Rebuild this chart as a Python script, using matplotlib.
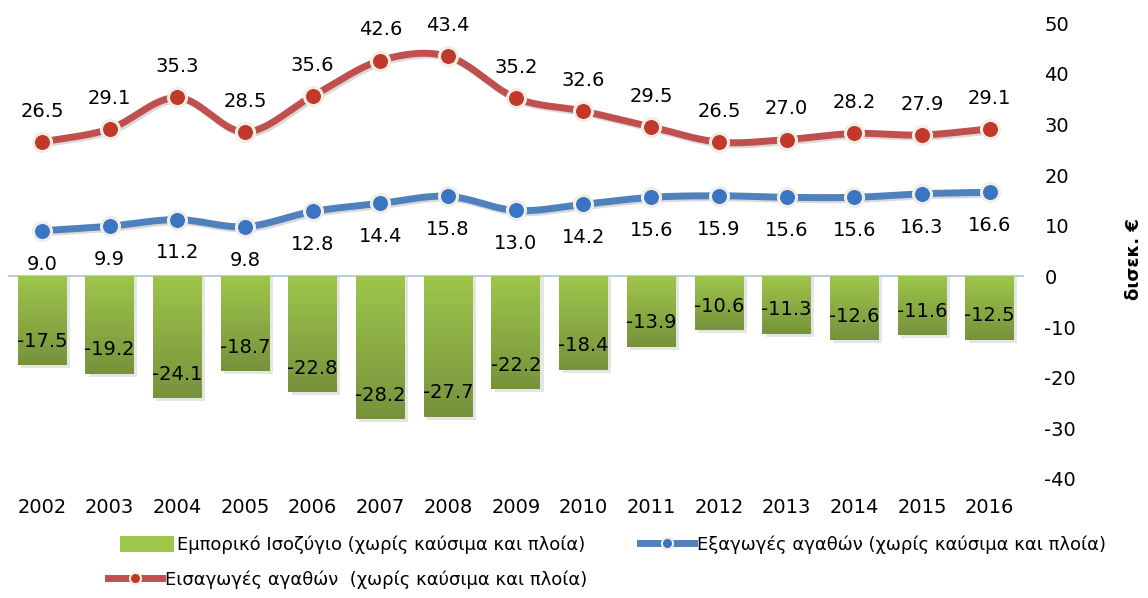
import numpy as np
import matplotlib.pyplot as plt
import matplotlib.patheffects as pe
from matplotlib.patches import Patch
from matplotlib.lines import Line2D
from matplotlib.colors import LinearSegmentedColormap

years = [str(y) for y in range(2002, 2017)]
balance = [-17.5, -19.2, -24.1, -18.7, -22.8, -28.2, -27.7, -22.2, -18.4, -13.9, -10.6, -11.3, -12.6, -11.6, -12.5]
exports = [9.0, 9.9, 11.2, 9.8, 12.8, 14.4, 15.8, 13.0, 14.2, 15.6, 15.9, 15.6, 15.6, 16.3, 16.6]
imports = [26.5, 29.1, 35.3, 28.5, 35.6, 42.6, 43.4, 35.2, 32.6, 29.5, 26.5, 27.0, 28.2, 27.9, 29.1]

lbl_bal = 'Εμπορικό Ισοζύγιο (χωρίς καύσιμα και πλοία)'
lbl_exp = 'Εξαγωγές αγαθών (χωρίς καύσιμα και πλοία)'
lbl_imp = 'Εισαγωγές αγαθών  (χωρίς καύσιμα και πλοία)'

red = '#C0504D'
blue = '#4F81BD'
green_top = '#9FC64B'
green_bot = '#76923C'
edge = '#F0EEE4'

plt.rcParams['font.family'] = ['DejaVu Sans']
plt.rcParams['axes.unicode_minus'] = False


def smooth(x, y, n=30):
    # Catmull-Rom, ungefähr wie Excel "smoothed line"
    x = np.asarray(x, float)
    y = np.asarray(y, float)
    px = np.concatenate([[2 * x[0] - x[1]], x, [2 * x[-1] - x[-2]]])
    py = np.concatenate([[2 * y[0] - y[1]], y, [2 * y[-1] - y[-2]]])
    xs, ys = [], []
    t = np.linspace(0, 1, n)
    for i in range(1, len(px) - 2):
        p0, p1, p2, p3 = [np.array([px[j], py[j]]) for j in range(i - 1, i + 3)]
        c = 0.5 * (2 * p1[:, None] + (-p0 + p2)[:, None] * t
                   + (2 * p0 - 5 * p1 + 4 * p2 - p3)[:, None] * t ** 2
                   + (-p0 + 3 * p1 - 3 * p2 + p3)[:, None] * t ** 3)
        xs.extend(c[0])
        ys.extend(c[1])
    return np.array(xs), np.array(ys)


fig = plt.figure(figsize=(11.48, 5.98), dpi=100)
ax = fig.add_axes([0.007, 0.199, 0.8846, 0.7625])
x = np.arange(len(years))

# bars with vertical gradient
bars = ax.bar(x, balance, width=0.72, color='none', zorder=2)
grad = np.linspace(0, 1, 256).reshape(-1, 1)
cmap = LinearSegmentedColormap.from_list('g', [green_top, green_bot])
for b in bars:
    x0, w = b.get_x(), b.get_width()
    h = b.get_height()
    sh = plt.Rectangle((x0 + 0.05, h - 0.6), w, -h + 0.6, color='#000000', alpha=0.10, lw=0, zorder=1)
    ax.add_patch(sh)
    im = ax.imshow(grad, extent=(x0, x0 + w, h, 0), cmap=cmap, aspect='auto', zorder=2)
    im.set_clip_path(b)

for xi, v in zip(x, balance):
    ax.text(xi, v + 4.7, f'{v:.1f}', ha='center', va='center', fontsize=14, zorder=5)

shadow = [pe.SimpleLineShadow(offset=(1.5, -1.5), alpha=0.15), pe.Normal()]
sx, sy = smooth(x, imports)
ax.plot(sx, sy, color=red, lw=5, zorder=3, solid_capstyle='round', path_effects=shadow)
ax.plot(x, imports, 'o', ms=13, mfc='#C0392B', mec=edge, mew=2.2, zorder=4)
bx, by = smooth(x, exports)
ax.plot(bx, by, color=blue, lw=5, zorder=3, solid_capstyle='round', path_effects=shadow)
ax.plot(x, exports, 'o', ms=13, mfc='#3A75C4', mec=edge, mew=2.2, zorder=4)

for xi, v in zip(x, imports):
    ax.annotate(f'{v:.1f}', (xi, v), xytext=(0, 22), textcoords='offset points',
                ha='center', va='center', fontsize=14, zorder=5)
for xi, v in zip(x, exports):
    ax.annotate(f'{v:.1f}', (xi, v), xytext=(0, -24), textcoords='offset points',
                ha='center', va='center', fontsize=14, zorder=5)

ax.axhline(0, color='#B9CDE5', lw=1.5, zorder=1)
ax.set_xlim(-0.5, len(years) - 0.5)
ax.set_ylim(-40, 50)
ax.set_yticks(range(-40, 51, 10))
ax.yaxis.tick_right()
ax.tick_params(axis='y', length=0, pad=15, labelsize=14)
for t in ax.get_yticklabels():
    t.set_horizontalalignment('left')
ax.set_xticks(x)
ax.set_xticklabels(years)
ax.tick_params(axis='x', length=0, pad=14, labelsize=14)
for s in ax.spines.values():
    s.set_visible(False)

fig.text(0.988, 0.566, 'δισεκ. €', rotation=90, ha='center', va='center',
         fontsize=13, fontweight='bold')

# legend: three single entries, placed like the original
h_bal = Patch(facecolor=green_top, edgecolor='none')
h_exp = Line2D([], [], color=blue, lw=5, marker='o', ms=8, mfc='#3A75C4', mec=edge, mew=1.5)
h_imp = Line2D([], [], color=red, lw=5, marker='o', ms=8, mfc='#C0392B', mec=edge, mew=1.5)
for h, lab, px, py in [(h_bal, lbl_bal, 120, 545), (h_exp, lbl_exp, 640, 545), (h_imp, lbl_imp, 108, 580)]:
    fig.legend([h], [lab], frameon=False, loc='center left',
               bbox_to_anchor=(px / 1148, 1 - py / 598), fontsize=13,
               handlelength=3.0, handletextpad=0.15, borderpad=0, borderaxespad=0,
               handleheight=1.0)

fig.savefig('out.png', dpi=100)
